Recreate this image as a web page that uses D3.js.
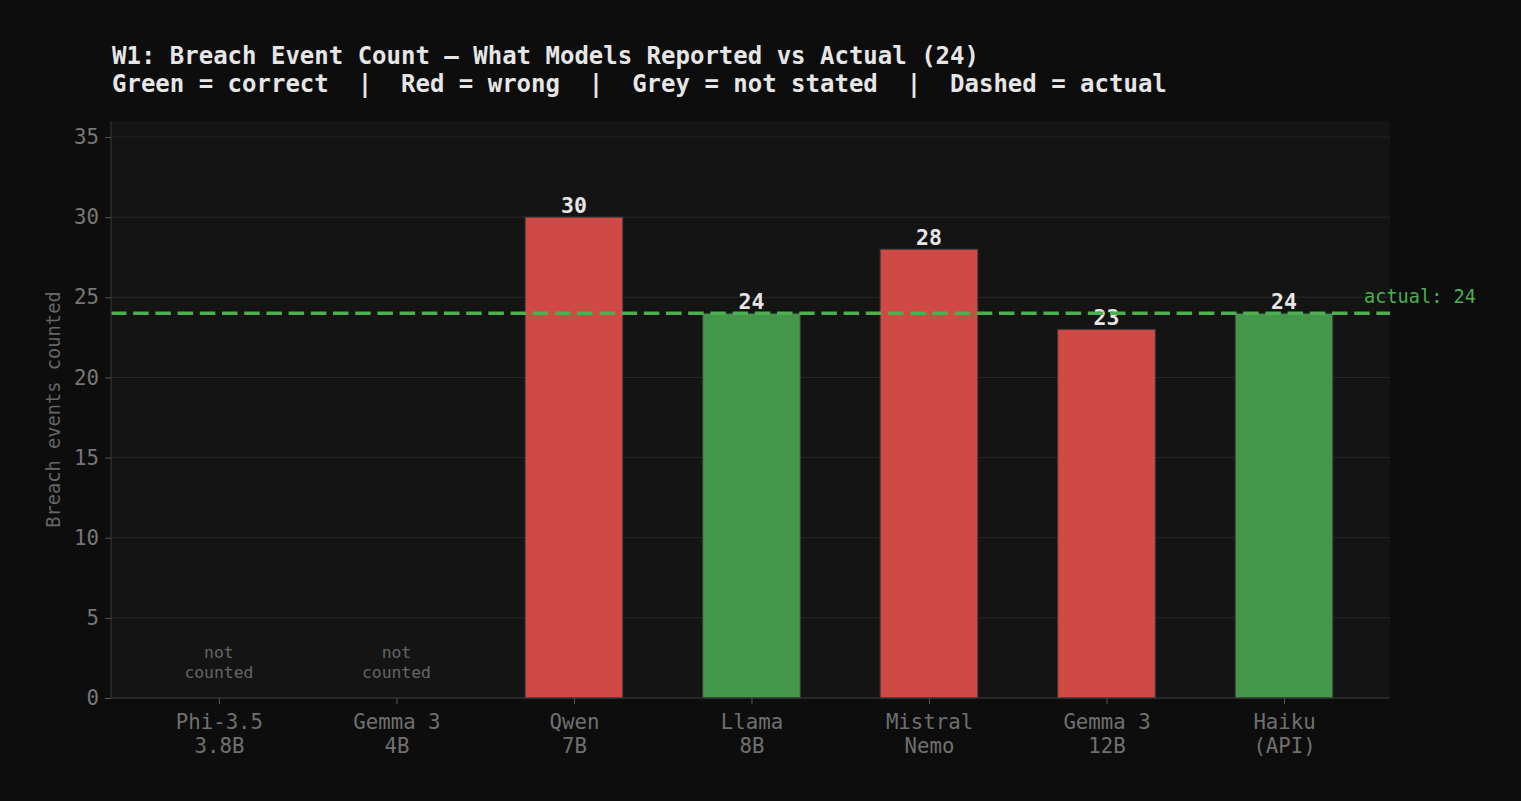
<!DOCTYPE html>
<html><head><meta charset="utf-8">
<script src="https://cdn.jsdelivr.net/npm/d3@7"></script>
<style>
html,body{margin:0;padding:0;background:#0d0d0d;}
svg{display:block;}
text{white-space:pre;}
</style></head>
<body>
<svg id="chart" width="1521" height="801"></svg>
<script>
const categories = [["Phi-3.5","3.8B"],["Gemma 3","4B"],["Qwen","7B"],["Llama","8B"],["Mistral","Nemo"],["Gemma 3","12B"],["Haiku","(API)"]];
const values = [null, null, 30, 24, 28, 23, 24];
const status = ["none","none","wrong","correct","wrong","wrong","correct"];
const actual = 24;
const yTicks = [0,5,10,15,20,25,30,35];
const titleLines = ["W1: Breach Event Count — What Models Reported vs Actual (24)",
  "Green = correct  |  Red = wrong  |  Grey = not stated  |  Dashed = actual"];

const colors = {correct:"#43964a", wrong:"#d04a45"};
const font = "'DejaVu Sans Mono', monospace";
const svg = d3.select("#chart");
const L = 111, R = 1390, T = 121, B = 698;
const barW = 0.55;

svg.append("rect").attr("width",1521).attr("height",801).attr("fill","#0d0d0d");
svg.append("rect").attr("x",L).attr("y",T).attr("width",R-L).attr("height",B-T).attr("fill","#141414");

const x = d3.scaleLinear().domain([-0.608, 6.597]).range([L, R]);
const y = d3.scaleLinear().domain([0, 36]).range([B, T]);

// grid
svg.append("g").selectAll("line").data(yTicks).join("line")
  .attr("x1",L).attr("x2",R).attr("y1",d=>y(d)).attr("y2",d=>y(d))
  .attr("stroke","#282828").attr("stroke-width",1);

// bars
const idx = d3.range(categories.length);
svg.append("g").selectAll("rect").data(idx.filter(i=>values[i]!=null)).join("rect")
  .attr("x",i=>x(i-barW/2)).attr("width",i=>x(i+barW/2)-x(i-barW/2))
  .attr("y",i=>y(values[i])).attr("height",i=>y(0)-y(values[i]))
  .attr("fill",i=>colors[status[i]]).attr("stroke","#3a3a3a").attr("stroke-width",1);

// value labels
svg.append("g").selectAll("text").data(idx.filter(i=>values[i]!=null)).join("text")
  .attr("x",i=>x(i)).attr("y",i=>y(values[i])-4.5).attr("text-anchor","middle")
  .attr("font-family",font).attr("font-weight","bold").attr("font-size","21.5px")
  .attr("fill","#e6e6e6").text(i=>values[i]);

// not counted
const nc = svg.append("g").selectAll("text").data(idx.filter(i=>values[i]==null)).join("text")
  .attr("x",i=>x(i)).attr("y",658).attr("text-anchor","middle")
  .attr("font-family",font).attr("font-size","16.4px").attr("fill","#666");
nc.append("tspan").attr("x",i=>x(i)).text("not");
nc.append("tspan").attr("x",i=>x(i)).attr("dy",20).text("counted");

// actual line
svg.append("line").attr("x1",L).attr("x2",R).attr("y1",y(actual)).attr("y2",y(actual))
  .attr("stroke","#4caf50").attr("stroke-width",3.5).attr("stroke-dasharray","15.5,6.7");
svg.append("text").attr("x",1364).attr("y",y(actual)-10)
  .attr("font-family",font).attr("font-size","18.6px").attr("fill","#4caf50")
  .text("actual: "+actual);

// axes
const yAxis = svg.append("g").attr("transform",`translate(${L},0)`)
  .call(d3.axisLeft(y).tickValues(yTicks).tickSize(6).tickPadding(6));
const xAxis = svg.append("g").attr("transform",`translate(0,${B})`)
  .call(d3.axisBottom(x).tickValues(idx).tickSize(6).tickFormat(()=>""));
[yAxis,xAxis].forEach(g=>{
  g.select(".domain").attr("stroke","#333").attr("stroke-width",1.2);
  g.selectAll(".tick line").attr("stroke","#555");
  g.selectAll("text").attr("font-family",font).attr("font-size","20.7px").attr("fill","#777");
});
yAxis.select(".domain").attr("d",`M0,${B}V${T}`);
xAxis.select(".domain").attr("d",`M${L},0H${R}`);

xAxis.selectAll(".tick").each(function(i){
  const t = d3.select(this).append("text").attr("text-anchor","middle")
    .attr("font-family",font).attr("font-size","20.7px").attr("fill","#707070");
  t.append("tspan").attr("x",0).attr("y",31).text(categories[i][0]);
  t.append("tspan").attr("x",0).attr("y",54.5).text(categories[i][1]);
});

// y label
svg.append("text").attr("transform",`translate(60,${(T+B)/2}) rotate(-90)`)
  .attr("text-anchor","middle").attr("font-family",font).attr("font-size","18.7px")
  .attr("fill","#666").text("Breach events counted");

// title
svg.append("g").selectAll("text").data(titleLines).join("text")
  .attr("x",112).attr("y",(d,i)=>63.5+i*28.5)
  .attr("font-family",font).attr("font-weight","bold").attr("font-size","24px")
  .attr("fill","#e6e6e6").attr("xml:space","preserve").text(d=>d);
</script>
</body></html>
